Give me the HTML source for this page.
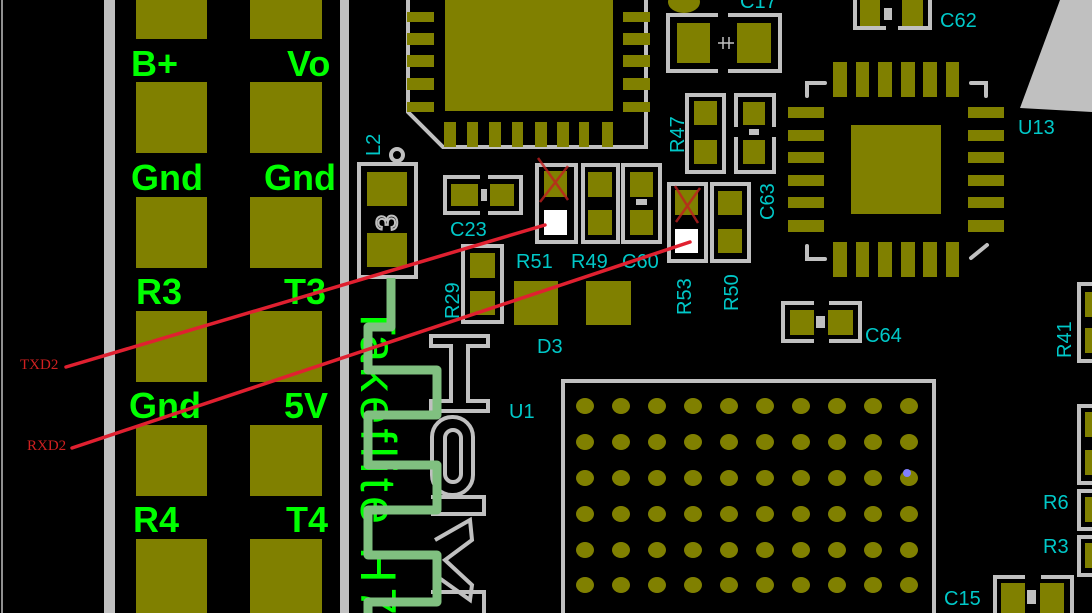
<!DOCTYPE html>
<html><head><meta charset="utf-8"><style>
html,body{margin:0;padding:0;background:#000;width:1092px;height:613px;overflow:hidden}
svg{display:block}
.g{fill:#00ff00;font-family:"Liberation Sans",sans-serif;font-weight:bold;font-size:36px}
.c{fill:#00c8c8;font-family:"Liberation Sans",sans-serif;font-size:20px}
.o{fill:#808000}
.s{fill:none;stroke:#c0c0c0;stroke-width:4}
</style></head><body>
<svg width="1092" height="613" viewBox="0 0 1092 613" xmlns="http://www.w3.org/2000/svg">
<rect width="1092" height="613" fill="#000"/>
<rect x="1" y="0" width="2" height="613" fill="#909090"/>
<rect x="104" y="0" width="11" height="613" fill="#c0c0c0"/>
<rect x="340" y="0" width="9" height="613" fill="#c0c0c0"/>
<g class="o">
<rect x="136" y="0" width="71" height="39"/><rect x="250" y="0" width="72" height="39"/>
<rect x="136" y="82" width="71" height="71"/><rect x="250" y="82" width="72" height="71"/>
<rect x="136" y="197" width="71" height="71"/><rect x="250" y="197" width="72" height="71"/>
<rect x="136" y="311" width="71" height="71"/><rect x="250" y="311" width="72" height="71"/>
<rect x="136" y="425" width="71" height="71"/><rect x="250" y="425" width="72" height="71"/>
<rect x="136" y="539" width="71" height="74"/><rect x="250" y="539" width="72" height="74"/>
</g>
<text class="g" x="131" y="76">B+</text><text class="g" x="287" y="76">Vo</text>
<text class="g" x="131" y="190">Gnd</text><text class="g" x="264" y="190">Gnd</text>
<text class="g" x="136" y="304">R3</text><text class="g" x="284" y="304">T3</text>
<text class="g" x="129" y="418">Gnd</text><text class="g" x="284" y="418">5V</text>
<text class="g" x="133" y="532">R4</text><text class="g" x="286" y="532">T4</text>
<text transform="translate(361,305) rotate(90)" style="fill:#00ff00;font-family:'Liberation Sans',sans-serif;font-size:50px" textLength="310">Takeflite H7</text>
<path class="s" d="M408,0 V112 L443,147 H646 V0"/>
<rect class="o" x="445" y="0" width="168" height="111"/>
<g class="o">
<rect x="407" y="12" width="27" height="10"/><rect x="407" y="33" width="27" height="12"/><rect x="407" y="55" width="27" height="12"/><rect x="407" y="78" width="27" height="12"/><rect x="407" y="102" width="27" height="10"/>
<rect x="623" y="12" width="27" height="10"/><rect x="623" y="33" width="27" height="12"/><rect x="623" y="55" width="27" height="12"/><rect x="623" y="78" width="27" height="12"/><rect x="623" y="102" width="27" height="10"/>
<rect x="444" y="122" width="12" height="25"/><rect x="467" y="122" width="11" height="25"/><rect x="489" y="122" width="12" height="25"/><rect x="512" y="122" width="11" height="25"/><rect x="535" y="122" width="12" height="25"/><rect x="557" y="122" width="12" height="25"/><rect x="579" y="122" width="10" height="25"/><rect x="602" y="122" width="11" height="25"/>
</g>
<ellipse class="o" cx="684" cy="2" rx="16" ry="11"/>
<text class="c" x="740" y="8">C17</text>
<path class="s" d="M718,15 H668 V71 H718 M728,15 H780 V71 H728"/>
<rect class="o" x="677" y="23" width="33" height="40"/><rect class="o" x="737" y="23" width="34" height="40"/>
<path d="M718,43 H734 M723,37 V49 M729,37 V49" stroke="#c0c0c0" stroke-width="1.5"/>
<text class="c" transform="translate(380,156) rotate(-90)">L2</text>
<circle cx="397" cy="155" r="6" fill="none" stroke="#c0c0c0" stroke-width="4"/>
<rect class="s" x="359" y="164" width="57" height="113" stroke-width="3"/>
<rect class="o" x="367" y="172" width="40" height="34"/><rect class="o" x="367" y="233" width="40" height="34"/>
<text x="376" y="230" fill="none" stroke="#c0c0c0" stroke-width="2" transform="rotate(-90 387 220)" style="font:30px 'Liberation Sans',sans-serif">3</text>
<path class="s" d="M480,177 H445 V213 H480 M488,177 H521 V213 H488" stroke-width="3"/>
<rect class="o" x="451" y="184" width="27" height="22"/><rect class="o" x="490" y="184" width="24" height="22"/>
<rect x="481" y="189" width="6" height="12" fill="#c0c0c0"/>
<text class="c" x="450" y="236">C23</text>
<rect class="s" x="537" y="165" width="39" height="77" stroke-width="3"/>
<rect class="o" x="544" y="171" width="23" height="26"/><rect x="544" y="210" width="23" height="25" fill="#fff"/>
<path d="M538,158 L568,200 M568,166 L540,202" stroke="#c02020" stroke-width="2.5" opacity="0.8"/>
<rect class="s" x="583" y="165" width="35" height="77" stroke-width="3"/>
<rect class="o" x="588" y="172" width="24" height="25"/><rect class="o" x="588" y="210" width="24" height="25"/>
<rect class="s" x="623" y="165" width="37" height="77" stroke-width="3"/>
<rect class="o" x="630" y="172" width="23" height="25"/><rect class="o" x="630" y="210" width="23" height="25"/>
<rect x="636" y="199" width="11" height="6" fill="#c0c0c0"/>
<text class="c" x="516" y="268">R51</text><text class="c" x="571" y="268">R49</text><text class="c" x="622" y="268">C60</text>
<rect class="s" x="669" y="184" width="37" height="77" stroke-width="3"/>
<rect class="o" x="675" y="190" width="23" height="25"/><rect x="675" y="229" width="23" height="24" fill="#fff"/>
<path d="M675,186 L698,223 M700,188 L676,222" stroke="#c02020" stroke-width="2.5" opacity="0.8"/>
<rect class="s" x="712" y="184" width="37" height="77" stroke-width="3"/>
<rect class="o" x="718" y="191" width="24" height="24"/><rect class="o" x="718" y="229" width="24" height="24"/>
<text class="c" transform="translate(691,315) rotate(-90)">R53</text>
<text class="c" transform="translate(738,311) rotate(-90)">R50</text>
<rect class="s" x="687" y="95" width="37" height="77" stroke-width="3"/>
<rect class="o" x="694" y="101" width="23" height="24"/><rect class="o" x="694" y="140" width="23" height="24"/>
<text class="c" transform="translate(684,153) rotate(-90)">R47</text>
<path class="s" d="M736,127 V95 H774 V127 M736,137 V172 H774 V137" stroke-width="3"/>
<rect class="o" x="743" y="102" width="22" height="23"/><rect class="o" x="743" y="140" width="22" height="24"/>
<rect x="749" y="129" width="10" height="6" fill="#c0c0c0"/>
<text class="c" transform="translate(774,220) rotate(-90)">C63</text>
<path class="s" d="M463,246 H502 V322 H463 Z" stroke-width="3"/>
<rect class="o" x="470" y="253" width="25" height="25"/><rect class="o" x="470" y="291" width="25" height="24"/>
<text class="c" transform="translate(459,319) rotate(-90)">R29</text>
<rect class="o" x="514" y="281" width="44" height="44"/><rect class="o" x="586" y="281" width="45" height="44"/>
<text class="c" x="537" y="353">D3</text>
<text class="c" x="509" y="418">U1</text>
<path class="s" d="M431,336 H488 V346 H468 V401 H488 V411 H431 V401 H451 V346 H431 Z" stroke-width="3"/>
<rect class="s" x="432" y="417" width="41" height="78" rx="20" stroke-width="3"/>
<rect class="s" x="445" y="430" width="16" height="52" rx="8" stroke-width="3"/>
<path class="s" d="M431,497 H484 V514 H431 M435,540 L470,520 L472,540 L445,560 L472,585 L470,600 L435,575" stroke-width="3"/>
<path class="s" d="M431,592 H484 V613" stroke-width="3"/>
<path d="M391,278 V327 H368 V370 H437 V415 H368 V465 H437 V510 H368 V555 H437 V602 H368 V613" fill="none" stroke="#80c080" stroke-width="9" stroke-linejoin="round"/>
<path class="s" d="M563,613 V381 H934 V613" stroke-width="8"/>
<path class="s" d="M886,28 H855 V0 M898,28 H930 V0" stroke-width="3"/>
<rect class="o" x="860" y="0" width="20" height="26"/><rect class="o" x="902" y="0" width="21" height="26"/>
<rect x="884" y="8" width="8" height="12" fill="#c0c0c0"/>
<text class="c" x="940" y="27">C62</text>
<path d="M1020,108 L1060,0 H1092 V112 Z" fill="#c0c0c0"/>
<text class="c" x="1018" y="134">U13</text>
<rect class="o" x="851" y="125" width="90" height="89"/>
<g class="o">
<rect x="833" y="62" width="14" height="35"/><rect x="856" y="62" width="13" height="35"/><rect x="878" y="62" width="14" height="35"/><rect x="901" y="62" width="14" height="35"/><rect x="923" y="62" width="14" height="35"/><rect x="946" y="62" width="13" height="35"/>
<rect x="833" y="242" width="14" height="35"/><rect x="856" y="242" width="13" height="35"/><rect x="878" y="242" width="14" height="35"/><rect x="901" y="242" width="14" height="35"/><rect x="923" y="242" width="14" height="35"/><rect x="946" y="242" width="13" height="35"/>
<rect x="788" y="107" width="36" height="11"/><rect x="788" y="130" width="36" height="11"/><rect x="788" y="152" width="36" height="11"/><rect x="788" y="175" width="36" height="11"/><rect x="788" y="197" width="36" height="11"/><rect x="788" y="220" width="36" height="12"/>
<rect x="968" y="107" width="36" height="11"/><rect x="968" y="130" width="36" height="11"/><rect x="968" y="152" width="36" height="11"/><rect x="968" y="175" width="36" height="11"/><rect x="968" y="197" width="36" height="11"/><rect x="968" y="220" width="36" height="12"/>
</g>
<path class="s" d="M807,96 V83 H825 M971,83 H986 V96 M807,246 V259 H825 M971,258 L987,245" stroke-width="6" stroke-linecap="round"/>
<path class="s" d="M814,303 H783 V341 H814 M829,303 H860 V341 H829" stroke-width="3"/>
<rect class="o" x="790" y="310" width="24" height="25"/><rect class="o" x="828" y="310" width="25" height="25"/>
<rect x="816" y="316" width="9" height="12" fill="#c0c0c0"/>
<text class="c" x="865" y="342">C64</text>
<path class="s" d="M1092,284 H1079 V361 H1092 M1092,406 H1079 V483 H1092 M1092,491 H1079 V529 H1092 M1092,537 H1079 V575 H1092" stroke-width="3"/>
<rect class="o" x="1085" y="292" width="7" height="25"/><rect class="o" x="1085" y="328" width="7" height="25"/>
<rect class="o" x="1085" y="412" width="7" height="25"/><rect class="o" x="1085" y="450" width="7" height="25"/>
<rect class="o" x="1085" y="497" width="7" height="25"/><rect class="o" x="1085" y="543" width="7" height="25"/>
<text class="c" transform="translate(1071,358) rotate(-90)">R41</text>
<text class="c" x="1043" y="509">R6</text><text class="c" x="1043" y="553">R3</text>
<text class="c" x="944" y="605">C15</text>
<path class="s" d="M1025,577 H995 V613 M1041,577 H1072 V613" stroke-width="3"/>
<rect class="o" x="1001" y="583" width="24" height="30"/><rect class="o" x="1040" y="583" width="24" height="30"/>
<rect x="1027" y="590" width="9" height="14" fill="#c0c0c0"/>
<path d="M66,367 L545,225 M72,448 L690,242" stroke="#e02030" stroke-width="3.5" stroke-linecap="round"/>
<text x="20" y="369" fill="#d02020" style="font:15px 'Liberation Serif',serif">TXD2</text>
<text x="27" y="450" fill="#d02020" style="font:15px 'Liberation Serif',serif">RXD2</text>
<g fill="#808000">
<ellipse cx="585" cy="406" rx="9" ry="8"/><ellipse cx="621" cy="406" rx="9" ry="8"/><ellipse cx="657" cy="406" rx="9" ry="8"/><ellipse cx="693" cy="406" rx="9" ry="8"/><ellipse cx="729" cy="406" rx="9" ry="8"/><ellipse cx="765" cy="406" rx="9" ry="8"/><ellipse cx="801" cy="406" rx="9" ry="8"/><ellipse cx="837" cy="406" rx="9" ry="8"/><ellipse cx="873" cy="406" rx="9" ry="8"/><ellipse cx="909" cy="406" rx="9" ry="8"/>
<ellipse cx="585" cy="442" rx="9" ry="8"/><ellipse cx="621" cy="442" rx="9" ry="8"/><ellipse cx="657" cy="442" rx="9" ry="8"/><ellipse cx="693" cy="442" rx="9" ry="8"/><ellipse cx="729" cy="442" rx="9" ry="8"/><ellipse cx="765" cy="442" rx="9" ry="8"/><ellipse cx="801" cy="442" rx="9" ry="8"/><ellipse cx="837" cy="442" rx="9" ry="8"/><ellipse cx="873" cy="442" rx="9" ry="8"/><ellipse cx="909" cy="442" rx="9" ry="8"/>
<ellipse cx="585" cy="478" rx="9" ry="8"/><ellipse cx="621" cy="478" rx="9" ry="8"/><ellipse cx="657" cy="478" rx="9" ry="8"/><ellipse cx="693" cy="478" rx="9" ry="8"/><ellipse cx="729" cy="478" rx="9" ry="8"/><ellipse cx="765" cy="478" rx="9" ry="8"/><ellipse cx="801" cy="478" rx="9" ry="8"/><ellipse cx="837" cy="478" rx="9" ry="8"/><ellipse cx="873" cy="478" rx="9" ry="8"/><ellipse cx="909" cy="478" rx="9" ry="8"/>
<ellipse cx="585" cy="514" rx="9" ry="8"/><ellipse cx="621" cy="514" rx="9" ry="8"/><ellipse cx="657" cy="514" rx="9" ry="8"/><ellipse cx="693" cy="514" rx="9" ry="8"/><ellipse cx="729" cy="514" rx="9" ry="8"/><ellipse cx="765" cy="514" rx="9" ry="8"/><ellipse cx="801" cy="514" rx="9" ry="8"/><ellipse cx="837" cy="514" rx="9" ry="8"/><ellipse cx="873" cy="514" rx="9" ry="8"/><ellipse cx="909" cy="514" rx="9" ry="8"/>
<ellipse cx="585" cy="550" rx="9" ry="8"/><ellipse cx="621" cy="550" rx="9" ry="8"/><ellipse cx="657" cy="550" rx="9" ry="8"/><ellipse cx="693" cy="550" rx="9" ry="8"/><ellipse cx="729" cy="550" rx="9" ry="8"/><ellipse cx="765" cy="550" rx="9" ry="8"/><ellipse cx="801" cy="550" rx="9" ry="8"/><ellipse cx="837" cy="550" rx="9" ry="8"/><ellipse cx="873" cy="550" rx="9" ry="8"/><ellipse cx="909" cy="550" rx="9" ry="8"/>
<ellipse cx="585" cy="585" rx="9" ry="8"/><ellipse cx="621" cy="585" rx="9" ry="8"/><ellipse cx="657" cy="585" rx="9" ry="8"/><ellipse cx="693" cy="585" rx="9" ry="8"/><ellipse cx="729" cy="585" rx="9" ry="8"/><ellipse cx="765" cy="585" rx="9" ry="8"/><ellipse cx="801" cy="585" rx="9" ry="8"/><ellipse cx="837" cy="585" rx="9" ry="8"/><ellipse cx="873" cy="585" rx="9" ry="8"/><ellipse cx="909" cy="585" rx="9" ry="8"/>
</g>
<circle cx="907" cy="473" r="4" fill="#8080ff"/>
</svg>
</body></html>
